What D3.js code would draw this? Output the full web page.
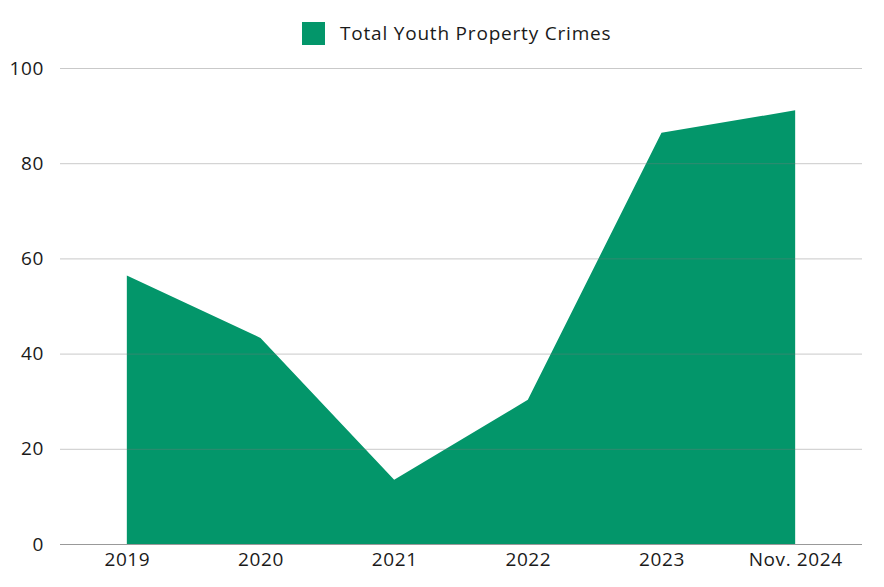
<!DOCTYPE html>
<html>
<head>
<meta charset="utf-8">
<script src="https://cdn.jsdelivr.net/npm/d3@7"></script>
<style>
  body { margin: 0; background: #fff; }
  svg { display: block; font-family: "Open Sans", sans-serif; }
</style>
</head>
<body>
<svg id="chart" width="884" height="587"></svg>
<script>
const categories = ["2019", "2020", "2021", "2022", "2023", "Nov. 2024"];
const values = [56.4, 43.3, 13.5, 30.3, 86.4, 91.1];
const yTicks = [0, 20, 40, 60, 80, 100];
const seriesName = "Total Youth Property Crimes";

const svg = d3.select("#chart");
const margin = { left: 60, right: 22, top: 68, bottom: 43 };
const W = 884, H = 587;
const FONT = "'Open Sans', sans-serif";

const x = d3.scalePoint().domain(categories).range([margin.left, W - margin.right]).padding(0.5);
const y = d3.scaleLinear().domain([0, 100]).range([H - margin.bottom, margin.top]);

const data = categories.map((c, i) => ({ c, v: values[i] }));

const area = d3.area().x(d => x(d.c)).y0(y(0)).y1(d => y(d.v));
svg.append("path").datum(data).attr("d", area).attr("fill", "#03966a");

// gridlines on top
const yAxis = d3.axisLeft(y).tickValues(yTicks).tickSize(-(W - margin.left - margin.right)).tickPadding(16);
const gy = svg.append("g").attr("transform", `translate(${margin.left},0)`).call(yAxis);
gy.select(".domain").remove();
gy.selectAll(".tick line").attr("stroke", "rgba(120,120,120,0.4)").attr("stroke-width", 1);
gy.selectAll(".tick text").attr("font-size", 19).attr("fill", "#1a1a1a").attr("font-family", FONT).attr("letter-spacing", 0.6);
gy.selectAll(".tick").filter(d => d === 0).select("line").attr("stroke", "#999");

const xAxis = d3.axisBottom(x).tickSize(0).tickPadding(9);
const gx = svg.append("g").attr("transform", `translate(0,${y(0)})`).call(xAxis);
gx.select(".domain").remove();
gx.selectAll(".tick text").attr("font-size", 19).attr("fill", "#1a1a1a").attr("font-family", FONT).attr("letter-spacing", 0.6);

// legend
const lg = svg.append("g").attr("transform", "translate(302,22)");
lg.append("rect").attr("width", 23).attr("height", 23).attr("fill", "#03966a");
lg.append("text").attr("x", 38).attr("y", 18).attr("font-size", 19).attr("fill", "#1a1a1a").attr("font-family", FONT).attr("letter-spacing", 0.8).text(seriesName);
</script>
</body>
</html>
